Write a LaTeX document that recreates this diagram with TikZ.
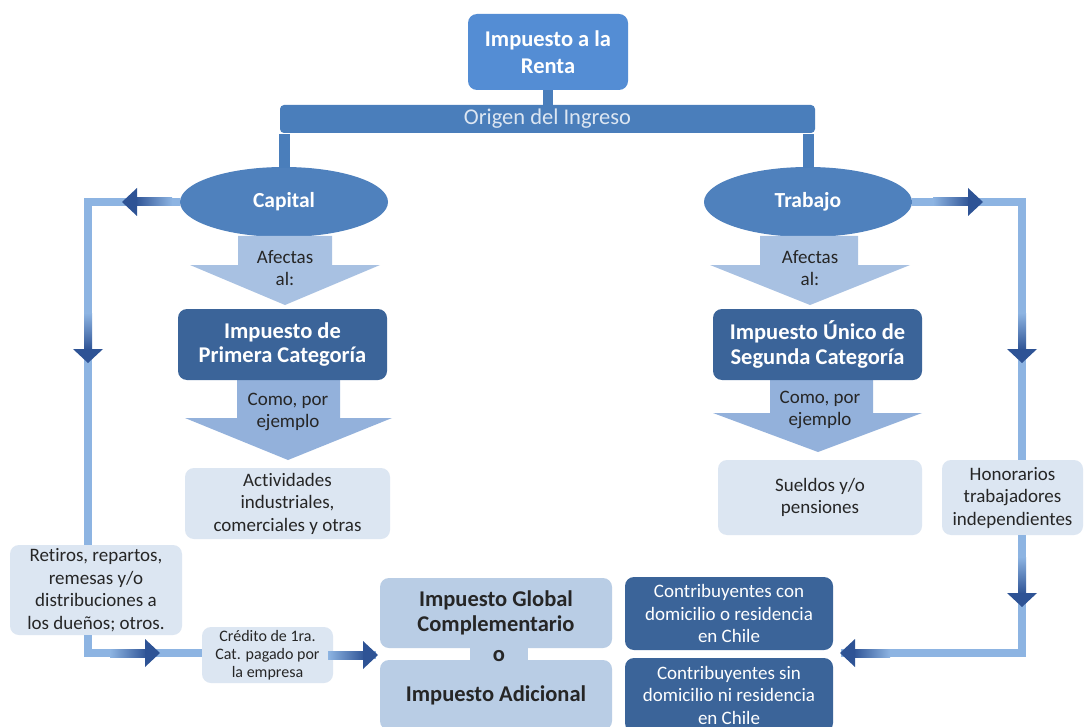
\documentclass[tikz,border=0pt]{standalone}
\usepackage{fontspec}
\setmainfont[Ligatures={NoCommon}]{Carlito}
\usetikzlibrary{shapes.geometric,calc}

\definecolor{topblue}{HTML}{548DD4}
\definecolor{barblue}{HTML}{4A7EBB}
\definecolor{ellblue}{HTML}{4F81BD}
\definecolor{deepbox}{HTML}{3B6499}
\definecolor{paleblock}{HTML}{A8C1E2}
\definecolor{midblock}{HTML}{93B1DB}
\definecolor{palebox}{HTML}{DCE6F2}
\definecolor{softbox}{HTML}{B9CDE5}
\definecolor{lineblue}{HTML}{8DB4E2}
\definecolor{headblue}{HTML}{2E5395}
\definecolor{ink}{HTML}{262626}
\definecolor{bartext}{HTML}{DCE6F2}

% arrow heads with a shaded tail, tip at the given point
\newcommand\hdright[1]{\begin{scope}[shift={#1}]
  \shade[left color=lineblue,right color=headblue] (-50,-4) rectangle (-13,4);
  \fill[headblue] (-15,-14) -- (0,0) -- (-15,14) -- cycle;\end{scope}}
\newcommand\hdleft[1]{\begin{scope}[shift={#1}]
  \shade[right color=lineblue,left color=headblue] (13,-4) rectangle (50,4);
  \fill[headblue] (15,-14) -- (0,0) -- (15,14) -- cycle;\end{scope}}
\newcommand\hddown[1]{\begin{scope}[shift={#1}]
  \shade[top color=lineblue,bottom color=headblue] (-4,-50) rectangle (4,-13);
  \fill[headblue] (-15,-14) -- (0,0) -- (15,-14) -- cycle;\end{scope}}

\tikzset{
  box/.style={rectangle, rounded corners=9pt, align=center, inner sep=0pt},
  deep/.style={box, fill=deepbox, text=white},
  pale/.style={box, fill=palebox, text=ink},
  conn/.style={draw=lineblue, line width=8pt},
  boldtxt/.style={font=\bfseries\fontsize{22.5}{24.5}\selectfont},
  regtxt/.style={font=\fontsize{19}{22.5}\selectfont},
}

\begin{document}
\begin{tikzpicture}[x=1pt,y=-1pt]
\fill[white] (0,0) rectangle (1086,727);
\useasboundingbox (0,0) rectangle (1086,727);

% corner points of the side loops
\coordinate (lcorner) at (88,202);
\coordinate (lbottom) at (88,653);
\coordinate (rcorner) at (1022,202);
\coordinate (rbottom) at (1022,653);

% ---- top of the tree ----
\node[box, fill=topblue, text=white, minimum width=160pt, minimum height=76pt,
  font=\bfseries\fontsize{22.5}{27}\selectfont]
  (renta) at (548,52) {Impuesto a la\\Renta};
\node[rectangle, rounded corners=4pt, fill=barblue, text=bartext, inner sep=0pt,
  minimum width=535pt, minimum height=28pt, font=\fontsize{22.5}{24}\selectfont]
  (origen) at (547.5,119) {Origen del Ingreso};
\draw[barblue, line width=10pt] (renta.south) -- (renta.south |- origen.north);

\node[ellipse, fill=ellblue, text=white, minimum width=208pt, minimum height=70pt,
  inner sep=0pt, font=\bfseries\fontsize{21.5}{24}\selectfont] (capital) at (284,202) {Capital};
\node[ellipse, fill=ellblue, text=white, minimum width=208pt, minimum height=70pt,
  inner sep=0pt, font=\bfseries\fontsize{21.5}{24}\selectfont] (trabajo) at (808,202) {Trabajo};
\draw[barblue, line width=11pt] ([yshift=-1pt]capital.north |- origen.south) -- ([yshift=-1pt]capital.north);
\draw[barblue, line width=11pt] ([yshift=-1pt]trabajo.north |- origen.south) -- ([yshift=-1pt]trabajo.north);

% ---- block arrows ----
\fill[paleblock] (238,236) -- (332,236) -- (332,265) -- (380,265) -- (285,305)
  -- (190,265) -- (238,265) -- cycle;
\node[regtxt, text=ink, align=center] (afectaA) at (285,268) {Afectas\\al:};
\fill[paleblock] (760,236) -- (858,236) -- (858,265) -- (910,265) -- (810,305)
  -- (710,265) -- (760,265) -- cycle;
\node[regtxt, text=ink, align=center] (afectaB) at (810,268) {Afectas\\al:};

\fill[midblock] (237,380) -- (340,380) -- (340,418) -- (392,418) -- (288,460)
  -- (185,418) -- (237,418) -- cycle;
\node[regtxt, text=ink, align=center] (comoA) at (288,412) {Como, por\\ejemplo};
\fill[midblock] (770,380) -- (873,380) -- (873,413) -- (922,413) -- (818,452)
  -- (713,413) -- (770,413) -- cycle;
\node[regtxt, text=ink, align=center] (comoB) at (820,410) {Como, por\\ejemplo};

% ---- category boxes ----
\node[deep, minimum width=209pt, minimum height=71pt, boldtxt]
  (primera) at (282.5,344.5) {Impuesto de\\Primera Categoría};
\node[deep, minimum width=209pt, minimum height=71pt, boldtxt]
  (unico) at (817.5,344.5) {Impuesto Único de\\Segunda Categoría};

\node[pale, minimum width=205pt, minimum height=71pt, regtxt]
  (activ) at (287.5,503.5) {Actividades\\industriales,\\comerciales y otras};
\node[pale, minimum width=204pt, minimum height=75pt, regtxt]
  (sueldos) at (820,497.5) {Sueldos y/o\\pensiones};
\node[pale, minimum width=141pt, minimum height=75pt, regtxt]
  (honor) at (1012.5,497.5) {Honorarios\\trabajadores\\independientes};
\node[pale, minimum width=172pt, minimum height=90pt, regtxt]
  (retiros) at (96,590) {Retiros, repartos,\\remesas y/o\\distribuciones a\\los dueños; otros.};
\node[pale, minimum width=131pt, minimum height=56pt, font=\fontsize{16}{18}\selectfont]
  (credito) at (267.5,655) {Crédito de 1ra.\\Cat. pagado por\\la empresa};

% ---- final taxes ----
\fill[softbox] (470,645) rectangle (528,663);
\node[box, fill=softbox, text=ink, minimum width=232pt, minimum height=70pt, boldtxt]
  (global) at (496,613) {Impuesto Global\\Complementario};
\node[box, fill=softbox, text=ink, minimum width=232pt, minimum height=70pt, boldtxt]
  (adicional) at (496,695) {Impuesto Adicional};
\node[text=ink, boldtxt, inner sep=0pt] (ou) at (499,656) {o};

\node[deep, minimum width=208pt, minimum height=73pt, regtxt]
  (conCh) at (729,613.5) {Contribuyentes con\\domicilio o residencia\\en Chile};
\node[deep, minimum width=208pt, minimum height=74pt, regtxt]
  (sinCh) at (729,695) {Contribuyentes sin\\domicilio ni residencia\\en Chile};

% ---- connector lines ----
\draw[conn] (capital.west) -- (lcorner) -- (lcorner |- retiros.north);
\draw[conn] (lcorner |- retiros.south) -- (lbottom) -- (lbottom -| credito.west);
\draw[conn] (credito.east) -- ($(credito.east -| global.west)+(-4,0)$);
\draw[conn] (trabajo.east) -- (rcorner) -- (rcorner |- honor.north);
\draw[conn] (rcorner |- honor.south) -- (rbottom) -- ($(rbottom -| conCh.east)+(8,0)$);

% ---- arrow heads ----
\hdleft{(122,202)}
\hddown{(88,363)}
\hdright{(160,653)}
\hdright{(378,655)}
\hdright{(983,202)}
\hddown{(1022,363)}
\hddown{(1022,607)}
\hdleft{(840,653)}
\end{tikzpicture}
\end{document}
